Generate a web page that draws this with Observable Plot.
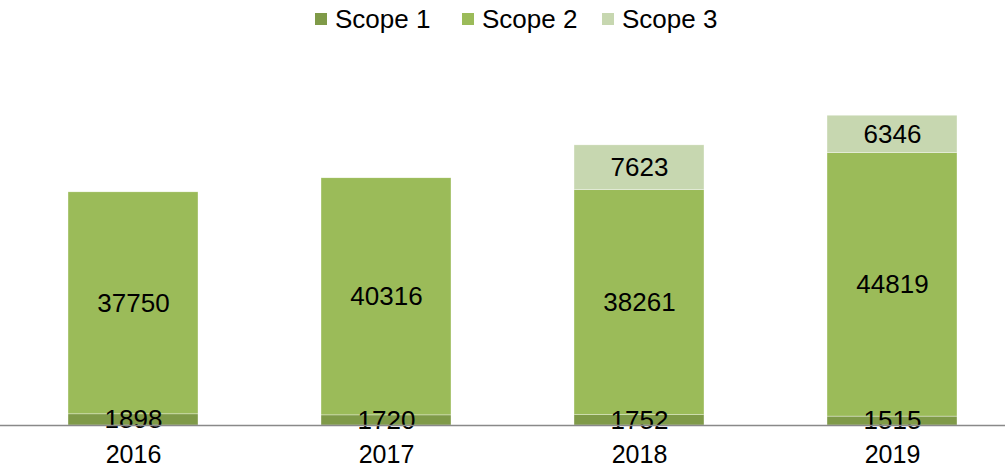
<!DOCTYPE html>
<html>
<head>
<meta charset="utf-8">
<script src="https://cdn.jsdelivr.net/npm/d3@7"></script>
<script src="https://cdn.jsdelivr.net/npm/@observablehq/plot@0.6"></script>
<style>
  html, body { margin: 0; padding: 0; background: #fff; }
  body { width: 1005px; height: 468px; overflow: hidden; font-family: Arial, "Liberation Sans", sans-serif; }
  #legend { position: relative; height: 36px; width: 1005px; }
  .item { position: absolute; top: 0; height: 36px; }
  .sw { position: absolute; top: 13px; left: 0; width: 12px; height: 12px; }
  .lbl { position: absolute; top: 6px; left: 20px; font-size: 26px; line-height: 26px; color: #000; white-space: nowrap; }
  svg { display: block; }
</style>
</head>
<body>
<div id="legend"></div>
<div id="chart"></div>
<script>
const years = ["2016", "2017", "2018", "2019"];
const seriesNames = ["Scope 1", "Scope 2", "Scope 3"];
const seriesColors = ["#7F9A48", "#9BBB59", "#C7D7B0"];
const scope1 = [1898, 1720, 1752, 1515];
const scope2 = [37750, 40316, 38261, 44819];
const scope3 = [null, null, 7623, 6346];
const legendLefts = [315, 462, 602];

const seriesValues = [scope1, scope2, scope3];
const data = [];
seriesNames.forEach((s, si) => {
  years.forEach((y, yi) => {
    const v = seriesValues[si][yi];
    if (v != null) data.push({year: y, series: s, value: v});
  });
});

const legend = document.getElementById("legend");
seriesNames.forEach((s, i) => {
  const it = document.createElement("div");
  it.className = "item";
  it.style.left = legendLefts[i] + "px";
  it.innerHTML = `<div class="sw" style="background:${seriesColors[i]}"></div><div class="lbl">${s}</div>`;
  legend.appendChild(it);
});

const chart = Plot.plot({
  width: 1005,
  height: 432,
  marginTop: 0,
  marginBottom: 43,
  marginLeft: 0,
  marginRight: 0,
  style: {fontFamily: 'Arial, "Liberation Sans", sans-serif', fontSize: "26px", color: "#000", background: "#fff"},
  x: {domain: years, range: [6.5, 1018.5], paddingInner: 0.486, paddingOuter: 0.243, label: null},
  y: {domain: [0, 66150], axis: null},
  color: {domain: seriesNames, range: seriesColors},
  marks: [
    Plot.barY(data, Plot.stackY({x: "year", y: "value", fill: "series", stroke: "#ffffff", strokeWidth: 0.5, strokeOpacity: 0.7, order: null})),
    Plot.text(data, Plot.stackY({x: "year", y: "value", text: d => String(d.value), fill: "#000", fontSize: 26, order: null})),
    Plot.ruleY([0], {stroke: "#898989", strokeWidth: 1.5}),
    Plot.axisX({tickSize: 0, tickPadding: 20, fontSize: 25, fill: "#000", label: null})
  ]
});
document.getElementById("chart").appendChild(chart);
</script>
</body>
</html>
